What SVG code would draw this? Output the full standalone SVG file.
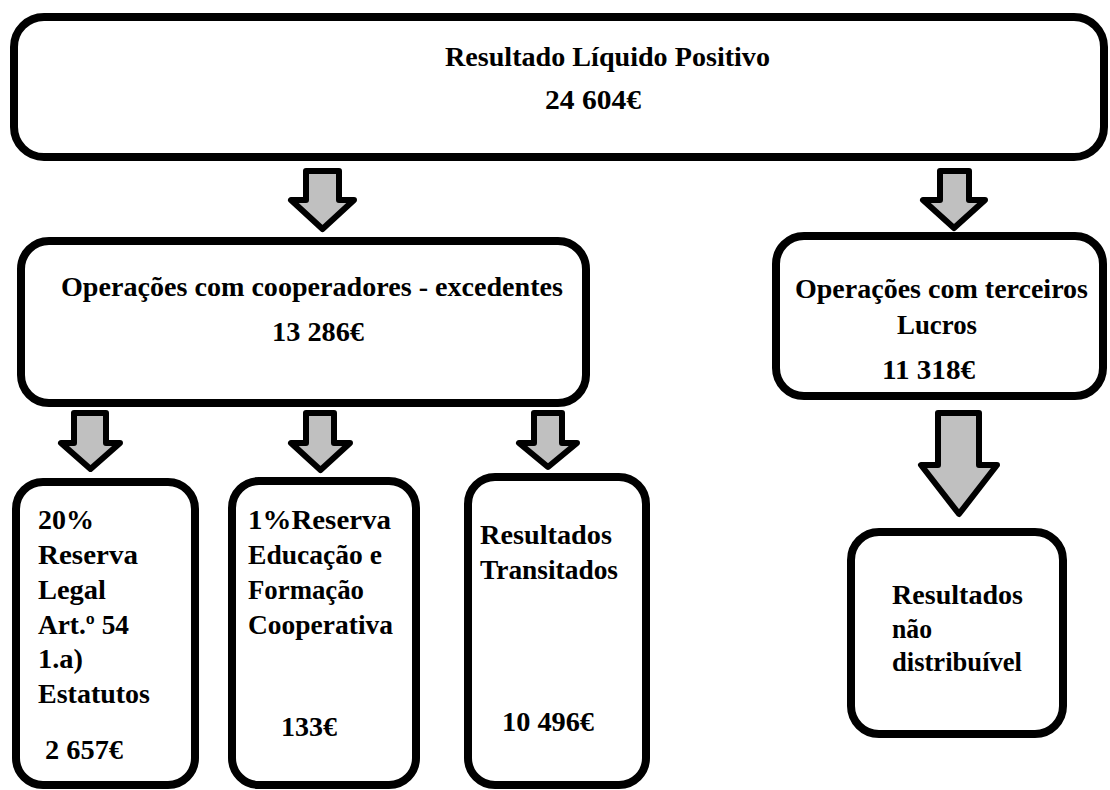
<svg xmlns="http://www.w3.org/2000/svg" width="1110" height="790" viewBox="0 0 1110 790">
<style>
.box{fill:#ffffff;stroke:#000000;stroke-width:8}
.arr{fill:#c0c0c0;stroke:#000000;stroke-width:6;stroke-linejoin:round}
text{font-family:"Liberation Serif","Times New Roman",serif;font-weight:bold;font-size:27px;fill:#000000}
</style>
<rect width="1110" height="790" fill="#ffffff"/>
<g id="connectors">
<path class="arr" d="M306 171 H339 V200 H354 L322.5 229 L291 200 H306 Z"/>
<path class="arr" d="M940 171 H969 V200 H985 L954 228 L923 200 H940 Z"/>
<path class="arr" d="M74 413 H106 V443 H120 L90.5 469 L61 443 H74 Z"/>
<path class="arr" d="M306 413 H334 V443 H350 L320.5 470 L291 443 H306 Z"/>
<path class="arr" d="M534 413 H562 V443 H577 L548 467 L519 443 H534 Z"/>
<path class="arr" d="M938 413 H979 V465 H997 L959 514 L921 465 H938 Z"/>
</g>
<g id="top">
<rect class="box" x="14" y="17" width="1090" height="140" rx="30"/>
<text x="445" y="66" textLength="325" lengthAdjust="spacingAndGlyphs">Resultado Líquido Positivo</text>
<text x="545" y="109" textLength="96" lengthAdjust="spacingAndGlyphs">24 604€</text>
</g>
<g id="cooperadores">
<rect class="box" x="21" y="241" width="565" height="162" rx="28"/>
<text x="61" y="296" textLength="502" lengthAdjust="spacingAndGlyphs">Operações com cooperadores - excedentes</text>
<text x="272" y="341" textLength="92" lengthAdjust="spacingAndGlyphs">13 286€</text>
</g>
<g id="terceiros">
<rect class="box" x="776" y="236" width="327" height="160" rx="28"/>
<text x="795" y="298" textLength="293" lengthAdjust="spacingAndGlyphs">Operações com terceiros</text>
<text x="897" y="334" textLength="80" lengthAdjust="spacingAndGlyphs">Lucros</text>
<text x="882" y="379" textLength="93" lengthAdjust="spacingAndGlyphs">11 318€</text>
</g>
<g id="reserva-legal">
<rect class="box" x="16" y="482" width="179" height="303" rx="27"/>
<text x="38" y="529" textLength="56" lengthAdjust="spacingAndGlyphs">20%</text>
<text x="38" y="564" textLength="100" lengthAdjust="spacingAndGlyphs">Reserva</text>
<text x="38" y="599" textLength="68" lengthAdjust="spacingAndGlyphs">Legal</text>
<text x="38" y="634" textLength="91" lengthAdjust="spacingAndGlyphs">Art.º 54</text>
<text x="38" y="668" textLength="45" lengthAdjust="spacingAndGlyphs">1.a)</text>
<text x="38" y="703" textLength="112" lengthAdjust="spacingAndGlyphs">Estatutos</text>
<text x="45" y="759" textLength="78" lengthAdjust="spacingAndGlyphs">2 657€</text>
</g>
<g id="reserva-educacao">
<rect class="box" x="232" y="481" width="184" height="304" rx="27"/>
<text x="248" y="529" textLength="143" lengthAdjust="spacingAndGlyphs">1%Reserva</text>
<text x="248" y="564" textLength="134" lengthAdjust="spacingAndGlyphs">Educação e</text>
<text x="248" y="599" textLength="116" lengthAdjust="spacingAndGlyphs">Formação</text>
<text x="248" y="634" textLength="145" lengthAdjust="spacingAndGlyphs">Cooperativa</text>
<text x="281" y="736" textLength="56" lengthAdjust="spacingAndGlyphs">133€</text>
</g>
<g id="transitados">
<rect class="box" x="468" y="477" width="178" height="308" rx="27"/>
<text x="480" y="544" textLength="132" lengthAdjust="spacingAndGlyphs">Resultados</text>
<text x="480" y="579" textLength="138" lengthAdjust="spacingAndGlyphs">Transitados</text>
<text x="502" y="731" textLength="92" lengthAdjust="spacingAndGlyphs">10 496€</text>
</g>
<g id="nao-distribuivel">
<rect class="box" x="851" y="532" width="212" height="202" rx="28"/>
<text x="892" y="604" textLength="131" lengthAdjust="spacingAndGlyphs">Resultados</text>
<text x="892" y="638" textLength="40" lengthAdjust="spacingAndGlyphs">não</text>
<text x="892" y="671" textLength="130" lengthAdjust="spacingAndGlyphs">distribuível</text>
</g>
</svg>
